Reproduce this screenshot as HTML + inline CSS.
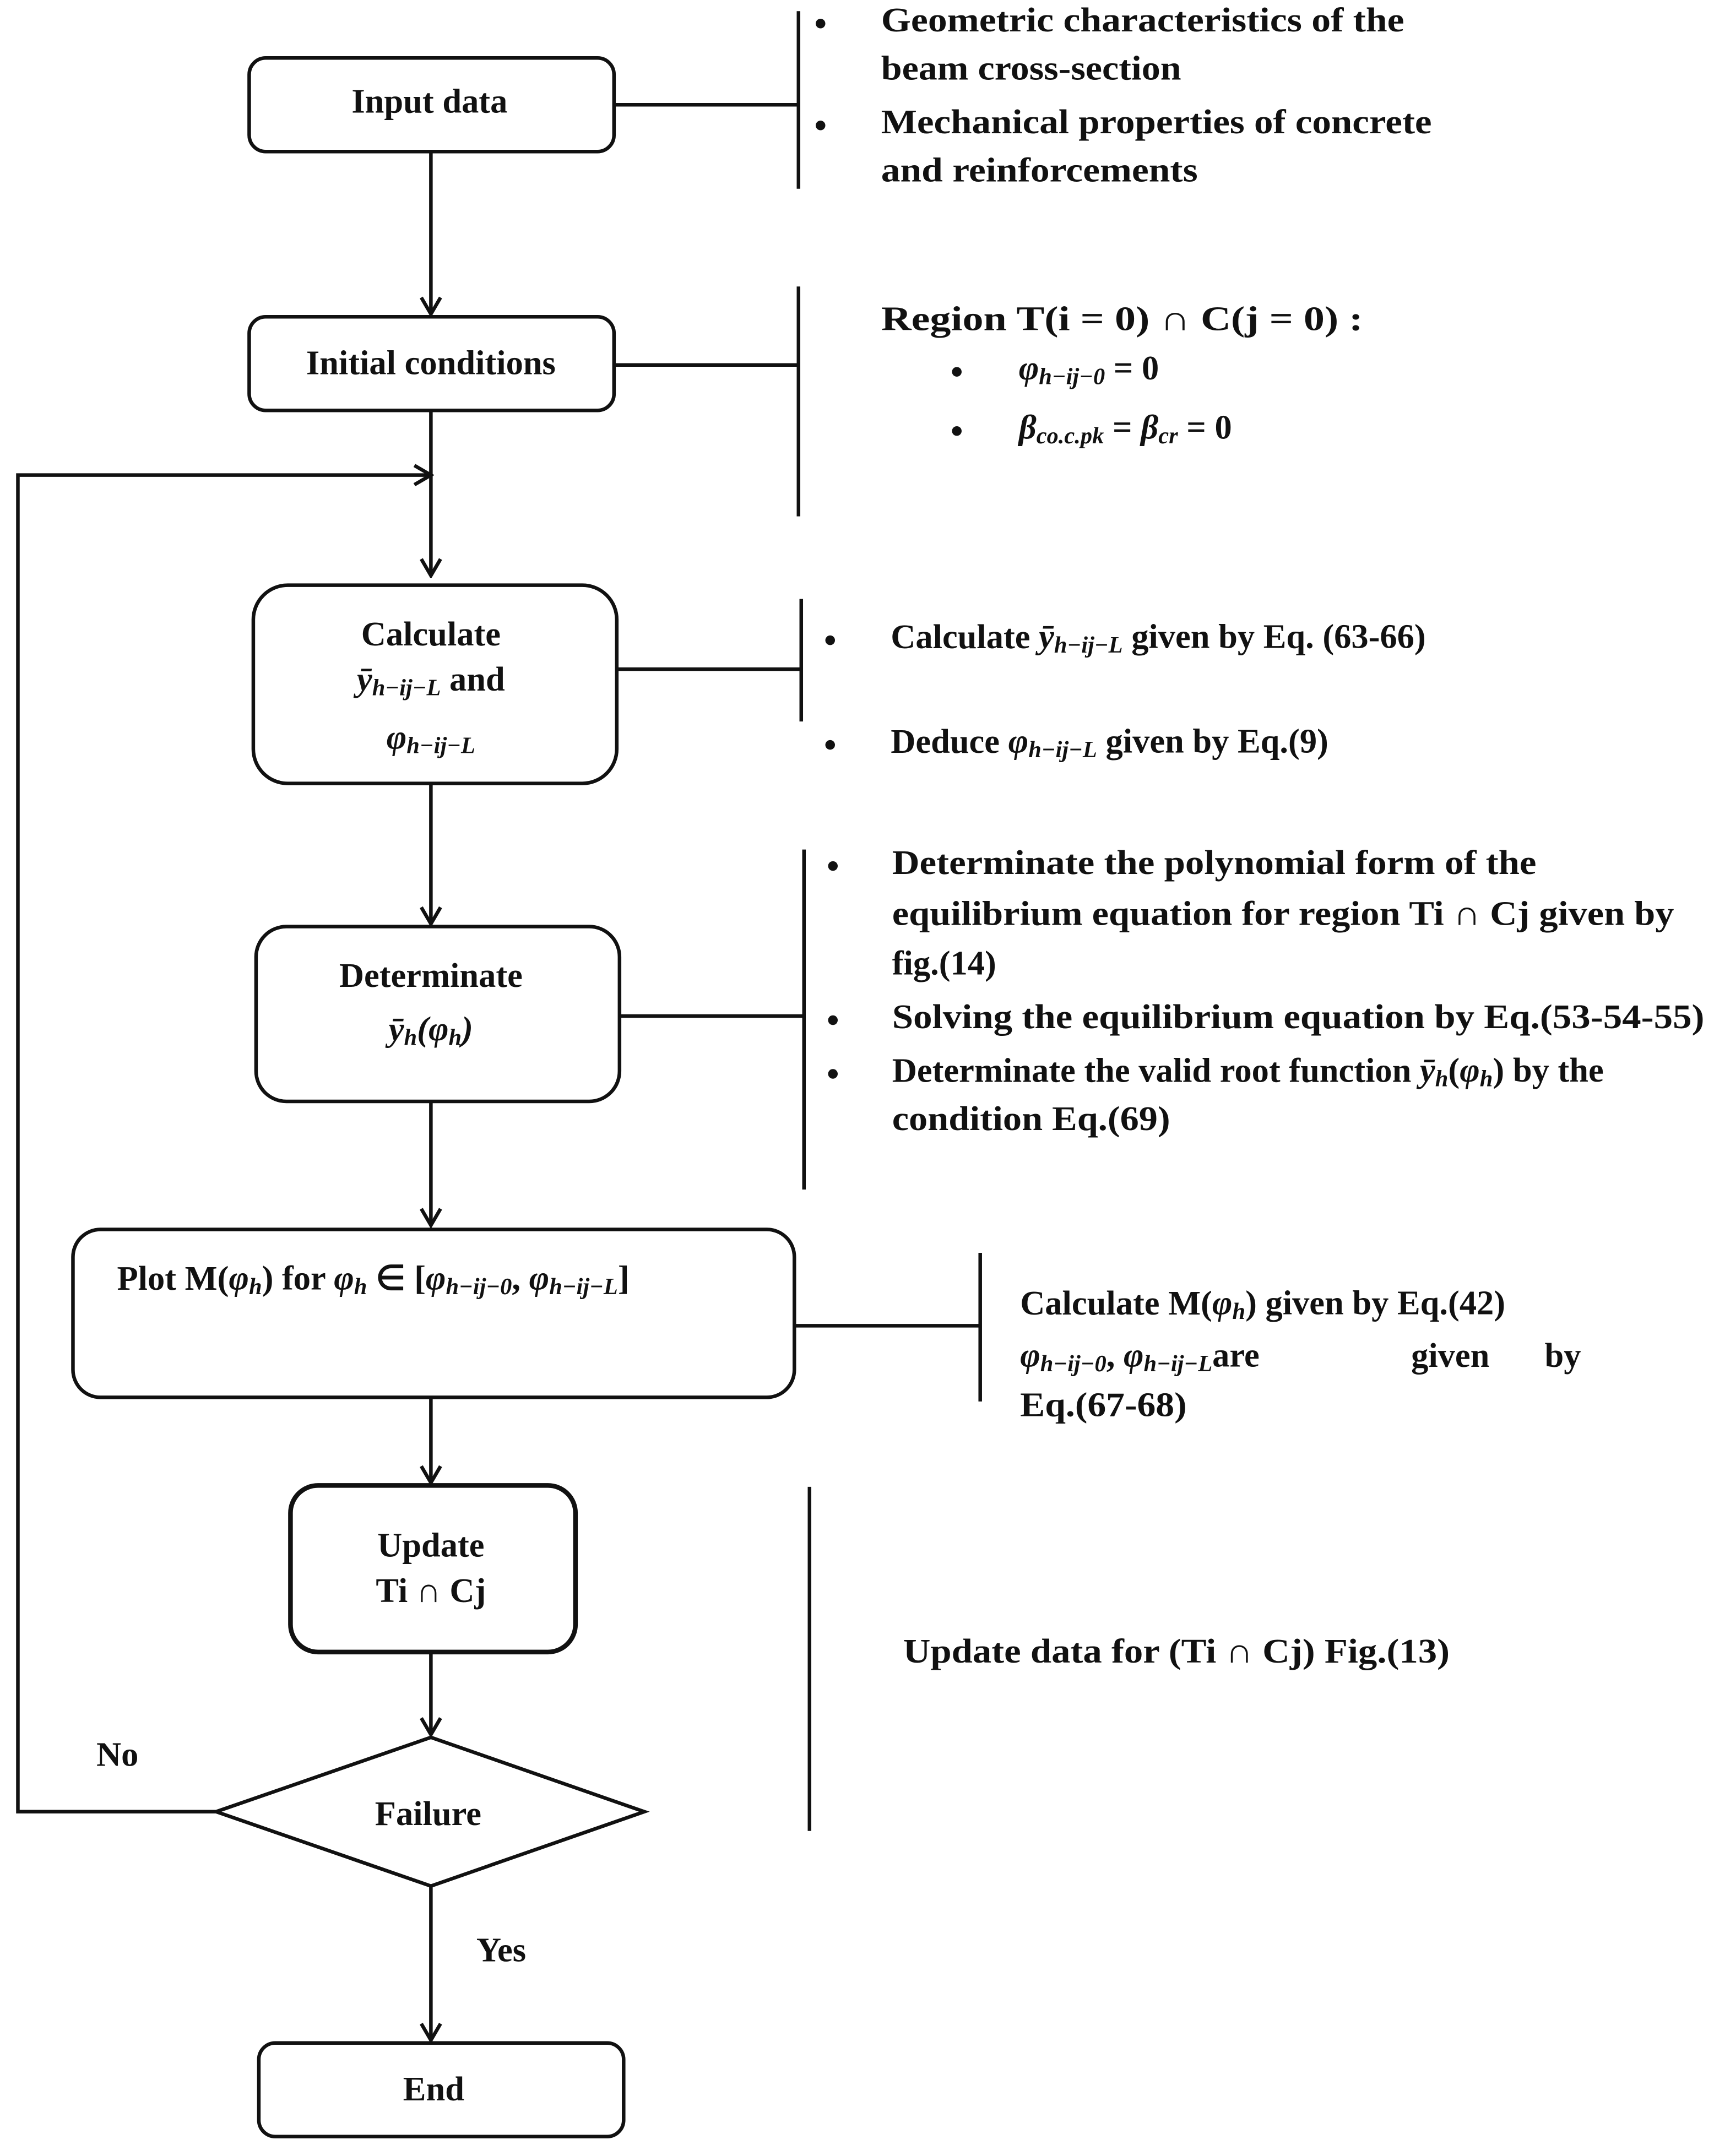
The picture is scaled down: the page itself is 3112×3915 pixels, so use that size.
<!DOCTYPE html>
<html><head><meta charset="utf-8"><style>
html,body{margin:0;padding:0;background:#fff;}
svg{display:block}
text{font-family:"Liberation Serif",serif;font-weight:bold;fill:#111;font-size:25px;dominant-baseline:middle}
.c{text-anchor:middle}
.i{font-style:italic}
</style></head><body>
<svg width="3112" height="3915" viewBox="0 0 1245 1566" xmlns="http://www.w3.org/2000/svg">
<defs><marker id="a" markerWidth="16" markerHeight="16" refX="14" refY="8" orient="auto" markerUnits="userSpaceOnUse"><path d="M2,1 L14,8 L2,15" fill="none" stroke="#111" stroke-width="2.6"/></marker></defs>
<g fill="none" stroke="#111" stroke-width="2.6">
<rect x="181" y="42" width="265" height="68" rx="12"/>
<rect x="181" y="230" width="265" height="68" rx="12"/>
<rect x="184" y="425" width="264" height="144" rx="25"/>
<rect x="186" y="673" width="264" height="127" rx="22"/>
<rect x="53" y="893" width="524" height="122" rx="20"/>
<rect x="211" y="1079" width="207" height="121" rx="20" stroke-width="3.4"/>
<polygon points="313,1262 468,1316 313,1370 157,1316"/>
<rect x="188" y="1484" width="265" height="68" rx="12"/>
<line x1="313" y1="110" x2="313" y2="228" marker-end="url(#a)"/>
<line x1="313" y1="298" x2="313" y2="418" marker-end="url(#a)"/>
<polyline points="157,1316 13,1316 13,345 313,345" marker-end="url(#a)"/>
<line x1="313" y1="569" x2="313" y2="671" marker-end="url(#a)"/>
<line x1="313" y1="800" x2="313" y2="890" marker-end="url(#a)"/>
<line x1="313" y1="1015" x2="313" y2="1077" marker-end="url(#a)"/>
<line x1="313" y1="1200" x2="313" y2="1260" marker-end="url(#a)"/>
<line x1="313" y1="1370" x2="313" y2="1482" marker-end="url(#a)"/>
<line x1="446" y1="76" x2="580" y2="76"/><line x1="580" y1="8" x2="580" y2="137"/>
<line x1="446" y1="265" x2="580" y2="265"/><line x1="580" y1="208" x2="580" y2="375"/>
<line x1="448" y1="486" x2="582" y2="486"/><line x1="582" y1="435" x2="582" y2="524"/>
<line x1="450" y1="738" x2="584" y2="738"/><line x1="584" y1="617" x2="584" y2="864"/>
<line x1="577" y1="963" x2="712" y2="963"/><line x1="712" y1="910" x2="712" y2="1018"/>
<line x1="588" y1="1080" x2="588" y2="1330"/>
</g>
<g fill="#111">
<circle cx="596" cy="17" r="3.5"/><circle cx="596" cy="91" r="3.5"/>
<circle cx="695" cy="270" r="3.5"/><circle cx="695" cy="313" r="3.5"/>
<circle cx="603" cy="465" r="3.5"/><circle cx="603" cy="541" r="3.5"/>
<circle cx="605" cy="629" r="3.5"/><circle cx="605" cy="741" r="3.5"/><circle cx="605" cy="780" r="3.5"/>
</g>
<text class="c" x="312" y="76">Input data</text>
<text class="c" x="313" y="266">Initial conditions</text>
<text class="c" x="313" y="463">Calculate</text>
<text class="c" x="313" y="496"><tspan class="i">ȳ<tspan font-size="17" dy="5">h−ij−L</tspan></tspan><tspan dy="-5"> and</tspan></text>
<text class="c i" x="313" y="538">φ<tspan font-size="17" dy="5">h−ij−L</tspan></text>
<text class="c" x="313" y="711">Determinate</text>
<text class="c i" x="313" y="750">ȳ<tspan font-size="17" dy="5">h</tspan><tspan dy="-5">(φ</tspan><tspan font-size="17" dy="5">h</tspan><tspan dy="-5">)</tspan></text>
<text x="85" y="931">Plot M(<tspan class="i">φ</tspan><tspan class="i" font-size="17" dy="5">h</tspan><tspan dy="-5">) for </tspan><tspan class="i">φ</tspan><tspan class="i" font-size="17" dy="5">h</tspan><tspan dy="-5"> ∈ [</tspan><tspan class="i">φ</tspan><tspan class="i" font-size="17" dy="5">h−ij−0</tspan><tspan dy="-5">, </tspan><tspan class="i">φ</tspan><tspan class="i" font-size="17" dy="5">h−ij−L</tspan><tspan dy="-5">]</tspan></text>
<text class="c" x="313" y="1125">Update</text>
<text class="c" x="313" y="1158">Ti ∩ Cj</text>
<text class="c" x="311" y="1320">Failure</text>
<text x="70" y="1277">No</text>
<text x="346" y="1419">Yes</text>
<text class="c" x="315" y="1520">End</text>

<text x="640" y="17" textLength="380" lengthAdjust="spacingAndGlyphs">Geometric characteristics of the</text>
<text x="640" y="52" textLength="218" lengthAdjust="spacingAndGlyphs">beam cross-section</text>
<text x="640" y="91" textLength="400" lengthAdjust="spacingAndGlyphs">Mechanical properties of concrete</text>
<text x="640" y="126" textLength="230" lengthAdjust="spacingAndGlyphs">and reinforcements</text>
<text x="640" y="234" textLength="350" lengthAdjust="spacingAndGlyphs">Region T(i = 0) ∩ C(j = 0) :</text>
<text x="740" y="270"><tspan class="i">φ</tspan><tspan class="i" font-size="17" dy="5">h−ij−0</tspan><tspan dy="-5"> = 0</tspan></text>
<text x="740" y="313"><tspan class="i">β</tspan><tspan class="i" font-size="17" dy="5">co.c.pk</tspan><tspan dy="-5"> = </tspan><tspan class="i">β</tspan><tspan class="i" font-size="17" dy="5">cr</tspan><tspan dy="-5"> = 0</tspan></text>
<text x="647" y="465">Calculate <tspan class="i">ȳ</tspan><tspan class="i" font-size="17" dy="5">h−ij−L</tspan><tspan dy="-5"> given by Eq. (63-66)</tspan></text>
<text x="647" y="541">Deduce <tspan class="i">φ</tspan><tspan class="i" font-size="17" dy="5">h−ij−L</tspan><tspan dy="-5"> given by Eq.(9)</tspan></text>
<text x="648" y="629" textLength="468" lengthAdjust="spacingAndGlyphs">Determinate the polynomial form of the</text>
<text x="648" y="666" textLength="568" lengthAdjust="spacingAndGlyphs">equilibrium equation for region Ti ∩ Cj given by</text>
<text x="648" y="702">fig.(14)</text>
<text x="648" y="741" textLength="590" lengthAdjust="spacingAndGlyphs">Solving the equilibrium equation by Eq.(53-54-55)</text>
<text x="648" y="780">Determinate the valid root function <tspan class="i">ȳ</tspan><tspan class="i" font-size="17" dy="5">h</tspan><tspan dy="-5">(</tspan><tspan class="i">φ</tspan><tspan class="i" font-size="17" dy="5">h</tspan><tspan dy="-5">) by the</tspan></text>
<text x="648" y="815" textLength="202" lengthAdjust="spacingAndGlyphs">condition Eq.(69)</text>
<text x="741" y="949">Calculate M(<tspan class="i">φ</tspan><tspan class="i" font-size="17" dy="5">h</tspan><tspan dy="-5">) given by Eq.(42)</tspan></text>
<text x="741" y="987"><tspan class="i">φ</tspan><tspan class="i" font-size="17" dy="5">h−ij−0</tspan><tspan dy="-5">, </tspan><tspan class="i">φ</tspan><tspan class="i" font-size="17" dy="5">h−ij−L</tspan><tspan dy="-5">are</tspan></text>
<text x="1025" y="987">given</text><text x="1122" y="987">by</text>
<text x="741" y="1023" textLength="121" lengthAdjust="spacingAndGlyphs">Eq.(67-68)</text>
<text x="656" y="1202" textLength="397" lengthAdjust="spacingAndGlyphs">Update data for (Ti ∩ Cj) Fig.(13)</text>
</svg>
</body></html>
